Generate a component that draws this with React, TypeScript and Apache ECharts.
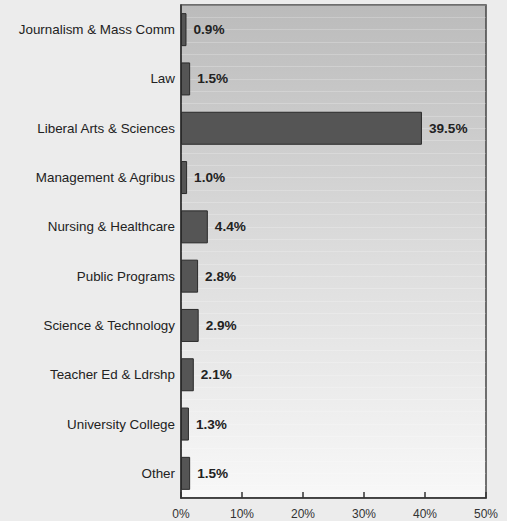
import React, { useEffect, useRef } from "react";
import * as echarts from "echarts";

const categories = [
  "Journalism & Mass Comm",
  "Law",
  "Liberal Arts & Sciences",
  "Management & Agribus",
  "Nursing & Healthcare",
  "Public Programs",
  "Science & Technology",
  "Teacher Ed & Ldrshp",
  "University College",
  "Other",
];
const values = [0.9, 1.5, 39.5, 1.0, 4.4, 2.8, 2.9, 2.1, 1.3, 1.5];
const xTicks = [0, 10, 20, 30, 40, 50];

const FONT = "'Liberation Sans', Arial, Helvetica, sans-serif";

export default function App() {
  const ref = useRef<HTMLDivElement>(null);
  useEffect(() => {
    if (!ref.current) return;
    const chart = echarts.init(ref.current, undefined, { renderer: "svg" });
    chart.setOption({
      animation: false,
      backgroundColor: "#ececec",
      textStyle: { fontFamily: FONT },
      grid: {
        left: 181,
        right: 21,
        top: 5,
        bottom: 23,
        show: true,
        borderColor: "#444",
        borderWidth: 1.5,
        backgroundColor: new echarts.graphic.LinearGradient(0, 0, 0, 1, [
          { offset: 0, color: "#bbbbbb" },
          { offset: 0.5, color: "#dcdcdc" },
          { offset: 1, color: "#f8f8f8" },
        ]),
      },
      xAxis: {
        type: "value",
        min: xTicks[0],
        max: xTicks[xTicks.length - 1],
        interval: 10,
        axisLine: { show: true, lineStyle: { color: "#333", width: 1.5 } },
        axisTick: { show: true, inside: true, length: 6, lineStyle: { color: "#333", width: 1.5 } },
        splitLine: { show: false },
        axisLabel: {
          formatter: "{value}%",
          color: "#333",
          fontSize: 12,
          fontFamily: FONT,
          margin: 10,
        },
      },
      yAxis: [
        {
          type: "category",
          data: categories,
          inverse: true,
          axisLine: { show: true, lineStyle: { color: "#333", width: 1.5 } },
          axisTick: { show: false },
          axisLabel: { color: "#222", fontSize: 13.4, fontFamily: FONT, margin: 6 },
          splitLine: { show: false },
        },
        {
          type: "value",
          min: 0,
          max: 40,
          interval: 1,
          show: true,
          axisLine: { show: false },
          axisTick: { show: false },
          axisLabel: { show: false },
          splitLine: { show: true, lineStyle: { color: "rgba(255,255,255,0.22)", width: 1 } },
        },
      ],
      series: [
        {
          type: "bar",
          yAxisIndex: 0,
          data: values,
          barWidth: 33,
          itemStyle: { color: "#555555", borderColor: "#2a2a2a", borderWidth: 1 },
          label: {
            show: true,
            position: "right",
            distance: 7,
            formatter: (p: any) => p.value.toFixed(1) + "%",
            color: "#222",
            fontWeight: "bold",
            fontSize: 13.6,
            fontFamily: FONT,
          },
        },
      ],
    });
    return () => chart.dispose();
  }, []);
  return (
    <div
      ref={ref}
      style={{ position: "fixed", left: 0, top: 0, width: 507, height: 521 }}
    />
  );
}
